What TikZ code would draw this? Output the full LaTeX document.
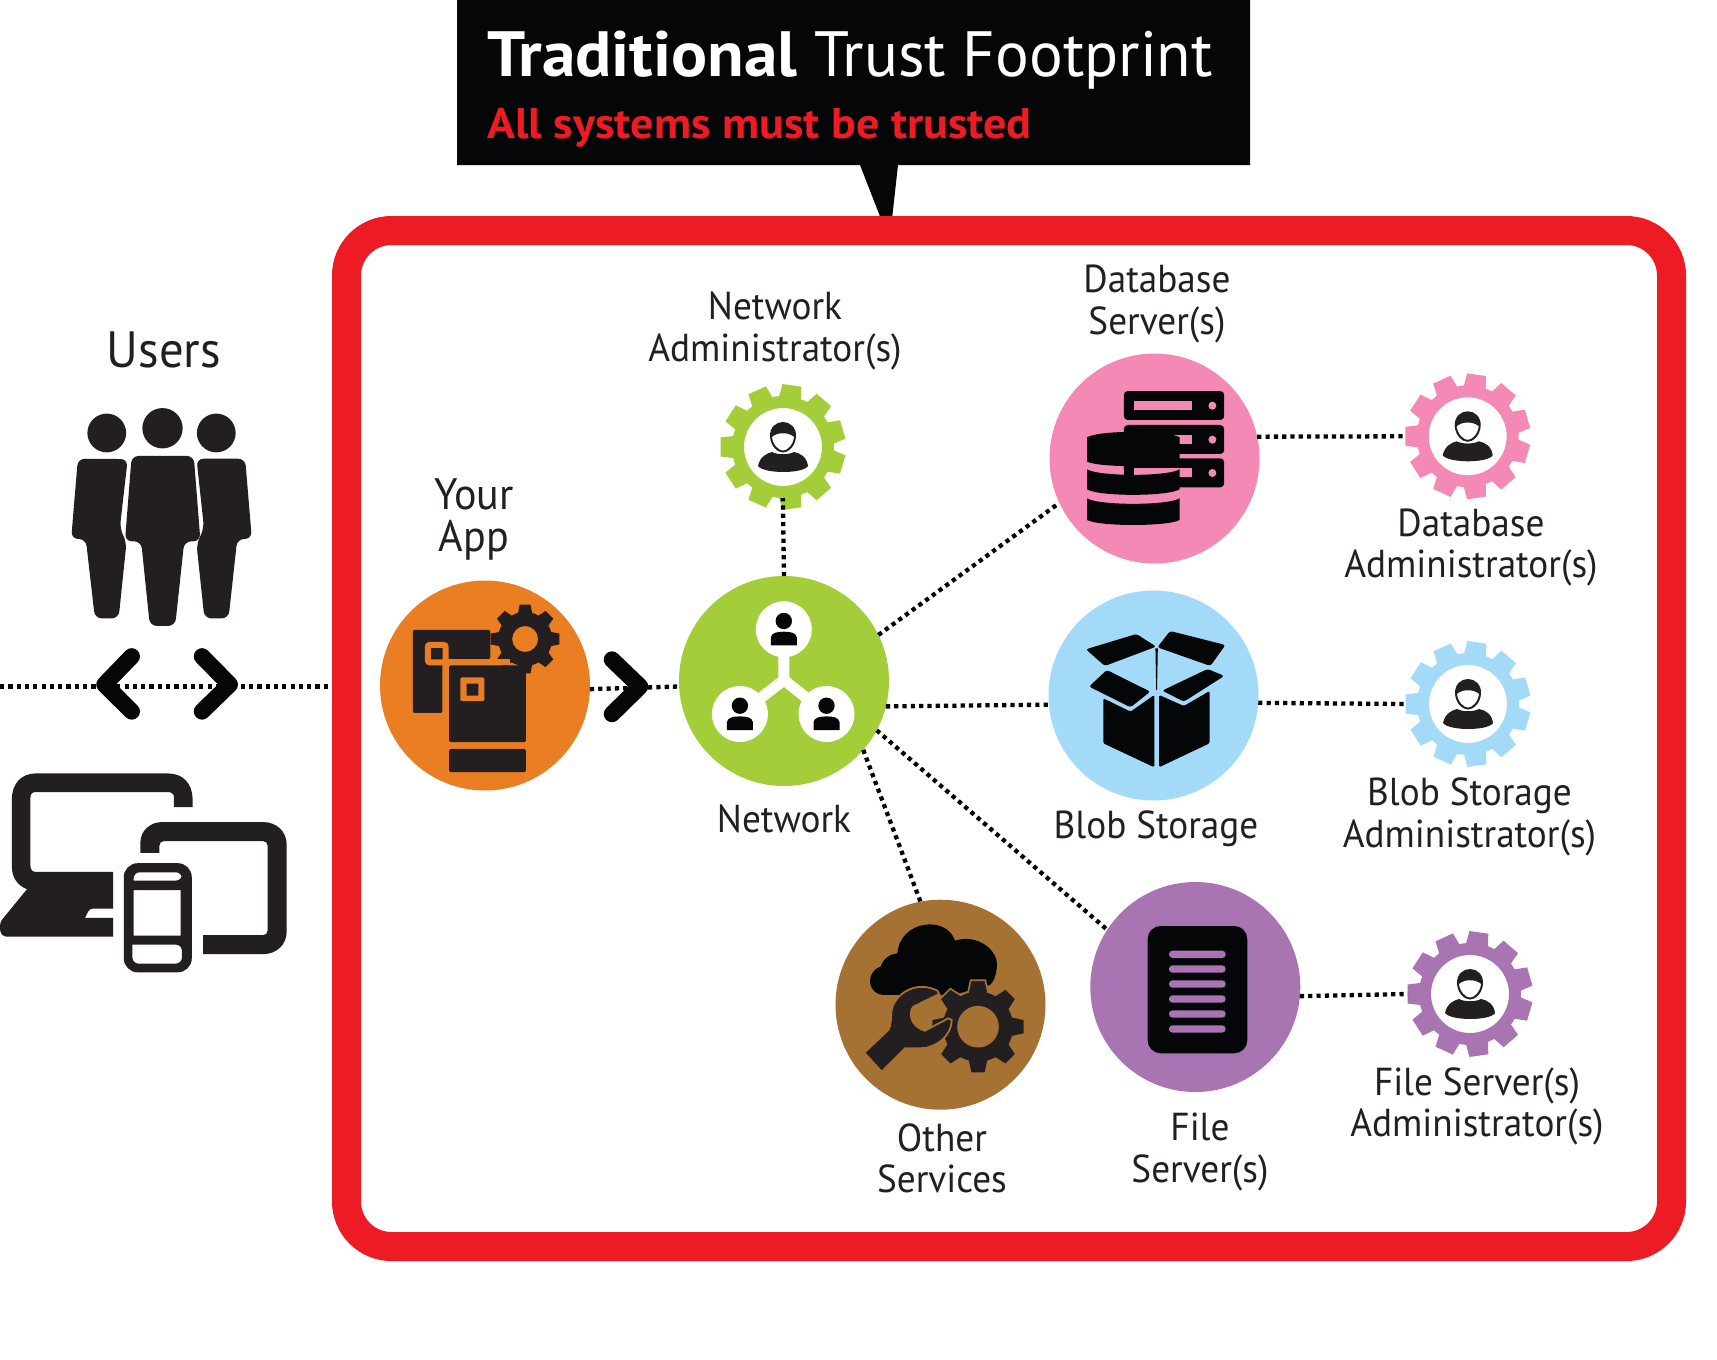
\documentclass[tikz,border=0pt]{standalone}
\usepackage{fontspec}
\setmainfont{PT Sans}
\newfontfamily\labelfont[FakeStretch=0.955]{PT Sans}
\newfontfamily\titleboldfont[FakeStretch=1.052]{PT Sans Bold}
\newfontfamily\titlefont[FakeStretch=0.985]{PT Sans}
\newfontfamily\subfont[FakeStretch=1.072]{PT Sans Bold}
\definecolor{redc}{HTML}{ED1C24}
\definecolor{orangec}{HTML}{EA7E23}
\definecolor{greenc}{HTML}{A3CD39}
\definecolor{pinkc}{HTML}{F489B5}
\definecolor{bluec}{HTML}{A3DAF7}
\definecolor{brownc}{HTML}{A57233}
\definecolor{purplec}{HTML}{A974B2}
\definecolor{darkc}{HTML}{231F20}
\definecolor{blackc}{HTML}{050608}
\tikzset{
 disc/.style={circle,minimum size=210pt,inner sep=0pt,outer sep=0pt,fill=#1},
 cogbox/.style={circle,minimum size=124pt,inner sep=0pt,outer sep=0pt},
 dots/.style={line width=4.3pt,blackc,dash pattern=on 4.2pt off 4.1pt},
 chev/.style={line width=16.5pt,blackc,line cap=round,line join=round},
 lab/.style={text=darkc,font=\labelfont\fontsize{39}{41.5}\selectfont,align=center,inner sep=0pt},
}
% colour, x, y, Rout, Rroot, Rhole, n, tip half angle, base half angle
\newcommand{\cogwheel}[9]{%
 \begin{scope}[shift={(#2,#3)}]
 \fill[#1,even odd rule] (\cogphase-#9:#5 pt)
  \foreach \k in {1,...,#7}{
   -- ({\cogphase+(\k-1)*360/#7-#9}:#5 pt)
   -- ({\cogphase+(\k-1)*360/#7-#8}:#4 pt)
   -- ({\cogphase+(\k-1)*360/#7+#8}:#4 pt)
   -- ({\cogphase+(\k-1)*360/#7+#9}:#5 pt)
   -- ({\cogphase+(\k-0.5)*360/#7}:#5 pt)
  } -- cycle (0,0) circle [radius=#6 pt];
 \end{scope}}
\newcommand{\adminperson}[2]{%
 \begin{scope}[shift={(#1,#2)}]
 \fill[darkc] (-25,19) .. controls (-23,9) and (-15,6) .. (-11,5) .. controls (-5,8) and (5,8) .. (11,5)
   .. controls (17,6) and (24,10) .. (25,19) .. controls (20,27) and (-19,27) .. (-25,19) -- cycle;
 \fill[darkc] (-13,-10) .. controls (-14,-30) and (14,-30) .. (13,-10) .. controls (12,0) and (5,5.5) .. (0,5.5)
   .. controls (-5,5.5) and (-12,0) .. (-13,-10) -- cycle;
 \fill[white] (-11,-10) .. controls (-5,-15) and (5,-15) .. (11,-10) .. controls (10,-2) and (4,3.5) .. (0,3.5)
   .. controls (-4,3.5) and (-10,-2) .. (-11,-10) -- cycle;
 \end{scope}}
\newcommand{\admincog}[3]{%
 \def\cogphase{180}%
 \cogwheel{#1}{#2}{#3}{63}{51}{39}{11}{8.7}{12.5}%
 \adminperson{#2}{#3}}
\newcommand{\netperson}[2]{%
 \begin{scope}[shift={(#1,#2)}]
 \fill[white] (0,0) circle [radius=28];
 \fill[blackc] (0,-8.3) circle [radius=8.2];
 \fill[blackc] (-13,16) -- (-13,8) .. controls (-12,3.5) and (-7,2.4) .. (0,2.4) .. controls (7,2.4) and (12,3.5) .. (13,8) -- (13,16) -- cycle;
 \end{scope}}
\begin{document}
\begin{tikzpicture}[x=1pt,y=-1pt]
\useasboundingbox (0,0) rectangle (1717,1360);
\fill[white] (0,0) rectangle (1717,1360);
% callout
\fill[blackc] (457,0) -- (1250,0) -- (1250,165) -- (898,165) -- (892,219) -- (881,219) -- (860,165) -- (457,165) -- cycle;
\node[anchor=base west,inner sep=0pt,text=white,font=\fontsize{64}{64}\selectfont] (title) at (487,76) {{\titleboldfont Traditional} {\titlefont Trust Footprint}};
\node[anchor=base west,inner sep=0pt,text=redc,font=\subfont\fontsize{43}{43}\selectfont] (subtitle) at (487,138) {All systems must be trusted};
% frame
\node[draw=redc,line width=29pt,rounded corners=45pt,minimum width=1325pt,minimum height=1016pt,inner sep=0pt,outer sep=0pt] (frame) at (1009,738.5) {};
% discs
\node[disc=orangec] (app) at (485,685.5) {};
\node[disc=greenc] (net) at (784,681) {};
\node[disc=pinkc] (db) at (1154.5,458.5) {};
\node[disc=bluec] (blob) at (1153.5,695.5) {};
\node[disc=brownc] (other) at (940.5,1004.7) {};
\node[disc=purplec] (file) at (1195.3,987) {};
\node[cogbox] (gnet) at (783,447) {};
\node[cogbox] (gdb) at (1467.7,436.3) {};
\node[cogbox] (gblob) at (1468,704) {};
\node[cogbox] (gfile) at (1470,994) {};
% cogs
\admincog{greenc}{783}{447}
\admincog{pinkc}{1467.7}{436.3}
\admincog{bluec}{1468}{704}
\admincog{purplec}{1470}{994}
% connectors
\coordinate (leftend) at (0,686.5);
\draw[dots,shorten >=14.5pt] (leftend) -- (leftend -| frame.west);
\draw[dots] (app.358) -- (net.183.3);
\draw[dots,shorten >=-11pt] (net.90.5) -- (gnet.south);
\draw[dots] (net.26.6) -- (db.205.8);
\draw[dots] (net.-14.5) -- (blob.185);
\draw[dots] (net.-28.5) -- (file.147.8);
\draw[dots] (net.-41.6) -- (other.101.8);
\draw[dots] (db.12.1) -- (gdb.west);
\draw[dots] (blob.-4.1) -- (gblob.west);
\draw[dots] (file.-5.5) -- (gfile.west);
% chevrons
\draw[chev] (131.7,656.4) -- (104.5,684.5) -- (131.7,711.4);
\draw[chev] (202,656.4) -- (229.7,684.5) -- (202,711.4);
\draw[chev] (612,659.6) -- (640,686.5) -- (612,714);
% users + devices + app icon (zoom coordinates)
\begin{scope}[shift={(0,380)},x=0.3954pt,y=-0.3954pt]
 \fill[darkc] (270,134) circle [radius=49];
 \fill[darkc] (411,122) circle [radius=51];
 \fill[darkc] (547,134) circle [radius=49];
 \fill[darkc,rounded corners=7pt] (323,200) -- (197,199) -- (180,402) -- (217,402) -- (240,603) -- (300,603) -- (320,410) -- (303,375) -- cycle;
 \fill[darkc,rounded corners=7pt] (333,192) -- (490,192) -- (507,408) -- (466,408) -- (443,622) -- (379,622) -- (357,408) -- (316,408) -- cycle;
 \fill[darkc,rounded corners=7pt] (497,199) -- (620,199) -- (637,402) -- (600,402) -- (578,603) -- (517,603) -- (497,415) -- (516,375) -- cycle;
 % laptop
 \fill[darkc] (30,1060) .. controls (30,1020) and (55,995) .. (90,995) -- (425,995) .. controls (462,995) and (487,1020) .. (487,1060)
   -- (487,1080) -- (440,1080) -- (440,1055) .. controls (440,1047) and (433,1042) .. (425,1042) -- (90,1042) .. controls (82,1042) and (77,1047) .. (77,1055)
   -- (77,1230) .. controls (77,1238) and (82,1244) .. (90,1244) -- (286,1244) -- (286,1337) -- (235,1337) .. controls (228,1337) and (225,1340) .. (222,1346)
   -- (215,1360) -- (286,1360) -- (286,1408) -- (15,1408) .. controls (0,1408) and (-5,1380) .. (5,1365) -- (68,1288) .. controls (45,1278) and (30,1260) .. (30,1230) -- cycle;
 % tablet
 \fill[darkc] (355,1196) -- (355,1170) .. controls (355,1140) and (380,1118) .. (410,1118) -- (665,1118) .. controls (700,1118) and (725,1142) .. (725,1175)
   -- (725,1395) .. controls (725,1428) and (700,1452) .. (665,1452) -- (514,1452) -- (514,1404) -- (665,1404) .. controls (672,1404) and (677,1399) .. (677,1392)
   -- (677,1178) .. controls (677,1171) and (672,1166) .. (665,1166) -- (415,1166) .. controls (408,1166) and (403,1171) .. (403,1178) -- (403,1196) -- cycle;
 % phone
 \fill[darkc,even odd rule] [rounded corners=14pt] (313,1222) rectangle (485,1498)
   [rounded corners=0pt] (338,1290) rectangle (457,1405)
   [rounded corners=6pt] (338,1266) -- (338,1245) -- (460,1245) -- (460,1266) [sharp corners] -- cycle
   [rounded corners=6pt] (335,1428) -- (335,1476) -- (460,1476) -- (460,1428) [sharp corners] -- cycle;
\end{scope}
\def\cogphase{0}
\cogwheel{darkc}{525.1}{639}{34.8}{27}{13}{8}{9}{15}
\begin{scope}[shift={(0,380)},x=0.3954pt,y=-0.3954pt]
 \fill[darkc,rounded corners=2pt] (1044,632) -- (1240,632) -- (1240,706) -- (1119,706) -- (1119,842) -- (1044,842) -- cycle;
 \draw[orangec,line width=6pt,rounded corners=2pt] (1082,670) rectangle (1127,714);
 \draw[orangec,line width=6pt] (1127,714) -- (1290,714);
 \fill[darkc,rounded corners=1.5pt] (1136,722) rectangle (1330,916);
 \fill[darkc,rounded corners=1.5pt] (1136,933) rectangle (1330,992);
 \fill[orangec,rounded corners=2pt,even odd rule] (1164,752) rectangle (1225,812) [sharp corners] (1180,768) rectangle (1210,798);
\end{scope}
% network icon
\draw[white,line width=11pt] (783.8,640) -- (784,685);
\draw[white,line width=11pt] (739.9,714) -- (784,680) -- (826.5,714);
\netperson{783.8}{629.3}
\netperson{739.9}{714}
\netperson{826.5}{714}
% database and box icons
\begin{scope}[shift={(660,360)},x=0.3954pt,y=-0.3333pt]
 \fill[blackc,rounded corners=4pt] (1173,93) rectangle (1427,180);
 \fill[blackc,rounded corners=4pt] (1173,195) rectangle (1427,282);
 \fill[blackc,rounded corners=4pt] (1173,295) rectangle (1427,382);
 \foreach \yy in {122,224,324} {
  \fill[pinkc] (1200,\yy) rectangle (1345,\yy+27);
  \fill[pinkc] (1397,\yy+15) ellipse [x radius=10,y radius=12];
 }
 \fill[blackc] (1080,232) .. controls (1110,210) and (1284,210) .. (1314,232) -- (1314,305) .. controls (1284,323) and (1110,323) .. (1080,305) -- cycle;
 \fill[blackc] (1080,328) .. controls (1110,350) and (1284,350) .. (1314,328) -- (1314,388) .. controls (1284,410) and (1110,410) .. (1080,388) -- cycle;
 \fill[blackc] (1080,415) .. controls (1110,437) and (1284,437) .. (1314,415) -- (1314,480) .. controls (1284,500) and (1110,500) .. (1080,480) -- cycle;
 % box
 \fill[blackc,rounded corners=2.5pt] (1077,868) -- (1205,822) -- (1255,860) -- (1125,918) -- cycle;
 \fill[blackc,rounded corners=2.5pt] (1290,813) -- (1430,855) -- (1392,918) -- (1258,862) -- cycle;
 \fill[blackc,rounded corners=2.5pt] (1130,930) -- (1240,995) -- (1190,1042) -- (1085,980) -- cycle;
 \fill[blackc,rounded corners=2.5pt] (1385,927) -- (1427,948) -- (1325,1025) -- (1270,992) -- cycle;
 \fill[blackc] (1253,865) -- (1259,865) -- (1257,990) -- (1255,990) -- cycle;
 \fill[blackc,rounded corners=1.5pt] (1121,1015) -- (1190,1055) -- (1250,1005) -- (1250,1222) -- (1121,1150) -- cycle;
 \fill[blackc,rounded corners=1.5pt] (1262,1005) -- (1325,1038) -- (1390,993) -- (1390,1150) -- (1262,1222) -- cycle;
\end{scope}
% other services and file icons
\begin{scope}[shift={(820,870)},x=0.3333pt,y=-0.3333pt]
 \fill[blackc] (195,375) .. controls (140,375) and (135,305) .. (182,290) .. controls (190,265) and (210,252) .. (232,250)
   .. controls (240,150) and (380,135) .. (405,212) .. controls (470,190) and (540,240) .. (530,295) .. controls (528,320) and (520,335) .. (510,345) -- (400,375) -- cycle;
\end{scope}
\def\cogphase{0}
\begin{scope}
 \cogwheel{darkc,draw=brownc,line width=1.6pt}{978}{1026.7}{47}{36}{20}{8}{9}{16}
\end{scope}
\begin{scope}[shift={(820,870)},x=0.3333pt,y=-0.3333pt]
 \fill[darkc,draw=brownc,line width=1.8pt] (133,548) -- (205,480) .. controls (215,465) and (212,440) .. (215,420) .. controls (225,370) and (290,330) .. (352,362)
   -- (358,372) -- (280,410) .. controls (265,425) and (270,470) .. (315,482) -- (385,445) -- (395,450) .. controls (395,500) and (345,535) .. (300,535) -- (255,535) -- (185,605) -- cycle;
 \fill[blackc,rounded corners=13pt] (983,168) rectangle (1282,550);
 \foreach \yy in {253,297,342,387,432,477} {
  \fill[purplec,rounded corners=3.5pt] (1047,\yy-11) rectangle (1217,\yy+11);
 }
\end{scope}
% labels
\node[lab,font=\labelfont\fontsize{51}{53}\selectfont] (lusers) at (164,350) {Users};
\node[lab,font=\labelfont\fontsize{44}{41.5}\selectfont] (lapp) at (474,519.5) {Your\\App};
\node[lab] (lgnet) at (775,331) {Network\\Administrator(s)};
\node[lab] (ldb) at (1157,304) {Database\\Server(s)};
\node[lab] (lgdb) at (1471,547.5) {Database\\Administrator(s)};
\node[lab] (lblob) at (1156,829) {Blob Storage};
\node[lab] (lgblob) at (1469.5,817) {Blob Storage\\Administrator(s)};
\node[lab] (lgfile) at (1477,1106.5) {File Server(s)\\Administrator(s)};
\node[lab] (lfile) at (1200,1152) {File\\Server(s)};
\node[lab] (lother) at (942,1158.5) {Other\\Services};
\node[lab] (lnet) at (784,819) {Network};
\end{tikzpicture}
\end{document}
